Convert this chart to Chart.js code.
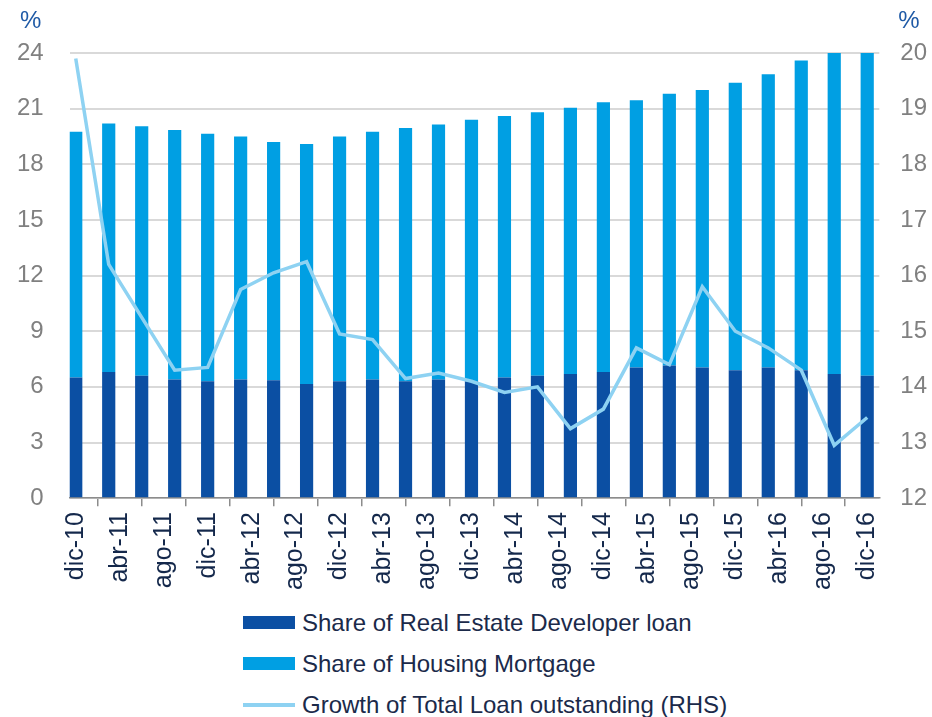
<!DOCTYPE html>
<html>
<head>
<meta charset="utf-8">
<script src="https://cdn.jsdelivr.net/npm/chart.js@4.4.1/dist/chart.umd.min.js"></script>
<style>
  body { margin: 0; background: #fff; font-family: 'Liberation Sans', Arial, sans-serif; }
  #wrap { position: relative; width: 932px; height: 717px; }
  #box { position: absolute; left: 0; top: 0; width: 932px; height: 600px; }
  #legend { position: absolute; left: 243px; top: 602px; }
  .item { display: flex; align-items: center; height: 41px; font-size: 24px; color: #1b2a4a; white-space: nowrap; }
  .sw { width: 52px; margin-right: 7px; }
</style>
</head>
<body>
<div id="wrap">
  <div id="box"><canvas id="miChart"></canvas></div>
  <div id="legend"></div>
</div>
<script>
// trimestres (barras y linea)
const quarters = ['dic-10', 'mar-11', 'jun-11', 'sep-11', 'dic-11', 'mar-12', 'jun-12', 'sep-12', 'dic-12',
  'mar-13', 'jun-13', 'sep-13', 'dic-13', 'mar-14', 'jun-14', 'sep-14', 'dic-14', 'mar-15', 'jun-15',
  'sep-15', 'dic-15', 'mar-16', 'jun-16', 'sep-16', 'dic-16'];
// etiquetas del eje x (cada 4 meses)
const tickLabels = ['dic-10', 'abr-11', 'ago-11', 'dic-11', 'abr-12', 'ago-12', 'dic-12', 'abr-13', 'ago-13',
  'dic-13', 'abr-14', 'ago-14', 'dic-14', 'abr-15', 'ago-15', 'dic-15', 'abr-16', 'ago-16', 'dic-16'];

const developer = [6.5, 6.8, 6.6, 6.4, 6.3, 6.4, 6.35, 6.15, 6.3, 6.4, 6.3, 6.4, 6.3,
  6.5, 6.6, 6.7, 6.8, 7.05, 7.15, 7.05, 6.9, 7.05, 6.9, 6.7, 6.6];
const mortgage = [13.25, 13.4, 13.45, 13.45, 13.35, 13.1, 12.85, 12.95, 13.2, 13.35, 13.65, 13.75, 14.1,
  14.1, 14.2, 14.35, 14.55, 14.4, 14.65, 14.95, 15.5, 15.8, 16.7, 17.4, 17.6];
const growth = [19.9, 16.2, 15.25, 14.3, 14.35, 15.75, 16.05, 16.25, 14.95, 14.85, 14.15, 14.25, 14.1,
  13.9, 14.0, 13.25, 13.6, 14.7, 14.4, 15.8, 15.0, 14.7, 14.3, 12.95, 13.45];

const seriesNames = ['Share of Real Estate Developer loan', 'Share of Housing Mortgage', 'Growth of Total Loan outstanding (RHS)'];

const MESES = ['ene', 'feb', 'mar', 'abr', 'may', 'jun', 'jul', 'ago', 'sep', 'oct', 'nov', 'dic'];
function mes(lbl) {
  const [m, y] = lbl.split('-');
  return Number(y) * 12 + MESES.indexOf(m);
}
const pts = arr => arr.map((v, i) => ({ x: mes(quarters[i]), y: v }));

const FONT = "'Liberation Sans', Arial, sans-serif";

// chart.js reserva el padding de los ticks a ambos lados; quitamos el de fuera
const trimPadding = s => { s.width -= s.options.ticks.padding; };

const percentPlugin = {
  id: 'percent',
  afterDraw(chart) {
    const c = chart.ctx;
    c.save();
    c.font = '24px ' + FONT;
    c.fillStyle = '#1f5aa6';
    c.textBaseline = 'middle';
    c.textAlign = 'left';
    c.fillText('%', 20, 21);
    c.fillText('%', chart.scales.y1.left + 19, 21);
    c.restore();
  }
};

const ctx = document.getElementById('miChart').getContext('2d');
const miChart = new Chart(ctx, {
  data: {
    datasets: [
      {
        type: 'line',
        label: seriesNames[2],
        data: pts(growth),
        yAxisID: 'y1',
        borderColor: '#8ed2f2',
        borderWidth: 3.5,
        pointRadius: 0,
        tension: 0,
        order: 0
      },
      {
        type: 'bar',
        label: seriesNames[0],
        data: pts(developer),
        backgroundColor: '#0b4fa3',
        yAxisID: 'y',
        stack: 's',
        order: 1
      },
      {
        type: 'bar',
        label: seriesNames[1],
        data: pts(mortgage),
        backgroundColor: '#009fe3',
        yAxisID: 'y',
        stack: 's',
        order: 2
      }
    ]
  },
  options: {
    responsive: true,
    maintainAspectRatio: false,
    animation: false,
    barPercentage: 0.4,
    categoryPercentage: 1,
    layout: { padding: { top: 53, left: 17, right: 5, bottom: 4 } },
    plugins: {
      legend: { display: false },
      tooltip: { enabled: false }
    },
    scales: {
      x: {
        type: 'linear',
        offset: false,
        min: mes(quarters[0]) - 0.55,
        max: mes(quarters[quarters.length - 1]) + 1.1,
        afterBuildTicks: scale => {
          scale.ticks = tickLabels.map(l => ({ value: mes(l) }));
        },
        grid: { drawOnChartArea: false, drawTicks: true, tickLength: 8, color: '#8c8c8c', lineWidth: 1.5 },
        border: { color: '#8c8c8c', width: 1.5 },
        ticks: {
          autoSkip: false,
          maxRotation: 90,
          minRotation: 90,
          padding: 6,
          color: '#14284b',
          font: { family: FONT, size: 25 },
          callback: v => tickLabels.find(l => mes(l) === v) || ''
        }
      },
      y: {
        stacked: true,
        min: 0,
        max: 24,
        afterFit: trimPadding,
        ticks: { stepSize: 3, padding: 26, color: '#808080', font: { family: FONT, size: 24 } },
        grid: { color: '#d9d9d9', lineWidth: 2, drawTicks: false },
        border: { display: false }
      },
      y1: {
        position: 'right',
        min: 12,
        max: 20,
        afterFit: trimPadding,
        ticks: { stepSize: 1, padding: 21, color: '#808080', font: { family: FONT, size: 24 } },
        grid: { drawOnChartArea: false, drawTicks: false },
        border: { display: false }
      }
    }
  },
  plugins: [percentPlugin]
});

// leyenda en HTML, una fila por serie
const legend = document.getElementById('legend');
miChart.data.datasets.slice(1).concat(miChart.data.datasets[0]).forEach(ds => {
  const row = document.createElement('div');
  row.className = 'item';
  const sw = document.createElement('span');
  sw.className = 'sw';
  if (ds.type === 'line') {
    sw.style.height = '4px';
    sw.style.background = ds.borderColor;
  } else {
    sw.style.height = '13px';
    sw.style.background = ds.backgroundColor;
  }
  const txt = document.createElement('span');
  txt.textContent = ds.label;
  row.appendChild(sw);
  row.appendChild(txt);
  legend.appendChild(row);
});
</script>
</body>
</html>
